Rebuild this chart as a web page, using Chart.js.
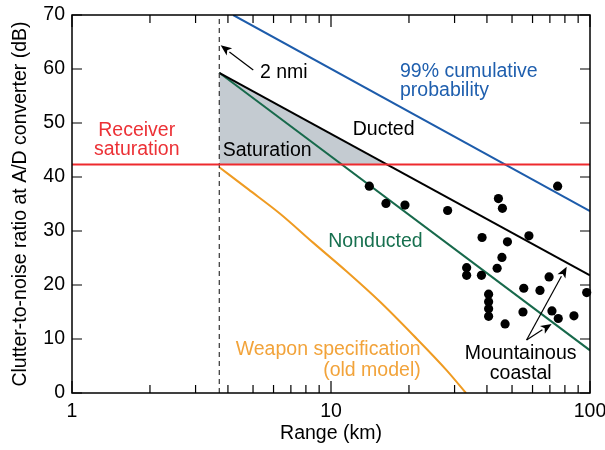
<!DOCTYPE html>
<html><head><meta charset="utf-8">
<script src="https://cdn.jsdelivr.net/npm/chart.js@4/dist/chart.umd.min.js"></script>
<style>html,body{margin:0;padding:0;background:#fff}#wrap{width:605px;height:450px;position:relative}</style>
</head><body><div id="wrap"><canvas id="c"></canvas></div>
<script>
// ---- data ----
const NMI2_KM = 3.704;
const xRange = [1, 100];
const yRange = [0, 70];
const yTicks = [0, 10, 20, 30, 40, 50, 60, 70];
const xMajorTicks = [1, 10, 100];
const xMinorTicks = [2, 3, 4, 5, 6, 7, 8, 9, 20, 30, 40, 50, 60, 70, 80, 90];
const saturationLevel = 42.3;
const ductedX = [3.704, 100];
const ductedY = [59.3, 21.8];
const nonductedX = [3.704, 100];
const nonductedY = [59.3, 7.9];
const cum99X = [4.19, 100];
const cum99Y = [70, 33.7];
const weaponX = [3.704, 4.80, 6.36, 8.55, 11.50, 15.46, 20.79, 27.97, 33.2];
const weaponY = [41.8, 37.7, 33.2, 27.8, 22.5, 16.9, 10.7, 4.2, 0];
const shadeX = [3.704, 16.2];
const shadeY = [59.3, 42.3];
const measX = [14.06, 16.3, 19.3, 28.2, 44.3, 45.9, 75.0, 38.3, 48.0, 58.1, 45.7, 33.4, 33.4, 38.1, 43.8, 55.5, 64.1, 69.5, 97.1, 40.6, 40.6, 40.6, 40.6, 55.1, 71.3, 75.4, 86.7, 47.0];
const measY = [38.3, 35.1, 34.8, 33.8, 36.0, 34.2, 38.3, 28.8, 28.0, 29.1, 25.1, 23.2, 21.8, 21.8, 23.1, 19.4, 19.0, 21.5, 18.6, 18.3, 16.9, 15.6, 14.2, 15.0, 15.2, 13.8, 14.3, 12.8];

const pts = (xs, ys) => xs.map((x, i) => ({x, y: ys[i]}));

const FONT = '"Liberation Sans", Arial, Helvetica, sans-serif';
const FS = 19.5;
const C = {red:'#ee2a2e', blue:'#1d5cab', green:'#17694b', orange:'#ef9b22', shade:'#c4cbd1',
  redText:'#ec3136', blueText:'#1f5fae', greenText:'#17704f', orangeText:'#f2a33a'};

// text annotations in data coordinates
const labels = [
  {t:'Receiver', x:1.778, y:48.5, c:C.redText, a:'center'},
  {t:'saturation', x:1.778, y:45.0, c:C.redText, a:'center'},
  {t:'2 nmi', x:5.32, y:59.3, c:'#000', a:'left'},
  {t:'99% cumulative', x:18.47, y:59.6, c:C.blueText, a:'left'},
  {t:'probability', x:18.47, y:56.0, c:C.blueText, a:'left'},
  {t:'Ducted', x:12.13, y:48.7, c:'#000', a:'left'},
  {t:'Saturation', x:3.82, y:44.9, c:'#000', a:'left'},
  {t:'Nonducted', x:9.76, y:28.0, c:C.greenText, a:'left'},
  {t:'Weapon specification', x:22.2, y:8.0, c:C.orangeText, a:'right'},
  {t:'(old model)', x:22.2, y:4.1, c:C.orangeText, a:'right'},
  {t:'Mountainous', x:54.0, y:7.35, c:'#000', a:'center'},
  {t:'coastal', x:54.0, y:3.65, c:'#000', a:'center'}
];
const arrows = [
  {from:[5.01, 59.8], to:[3.75, 64.4]},
  {from:[56.9, 9.8], to:[81.3, 23.4]},
  {from:[56.9, 9.8], to:[71.1, 12.8]}
];

function drawArrow(ctx, x1, y1, x2, y2) {
  const ang = Math.atan2(y2 - y1, x2 - x1);
  const L = 11, W = 4.5;
  const bx = x2 - L * Math.cos(ang), by = y2 - L * Math.sin(ang);
  ctx.beginPath(); ctx.moveTo(x1, y1); ctx.lineTo(bx, by); ctx.stroke();
  ctx.beginPath();
  ctx.moveTo(x2, y2);
  ctx.lineTo(bx + W * Math.sin(ang), by - W * Math.cos(ang));
  ctx.lineTo(bx + 0.25 * L * Math.cos(ang), by + 0.25 * L * Math.sin(ang));
  ctx.lineTo(bx - W * Math.sin(ang), by + W * Math.cos(ang));
  ctx.closePath(); ctx.fill();
}

const annot = {
  id: 'annot',
  afterDatasetsDraw(chart) {
    const {ctx, scales:{x, y}} = chart;
    ctx.save();
    ctx.strokeStyle = '#000'; ctx.fillStyle = '#000'; ctx.lineWidth = 1.2;
    arrows.forEach(a => drawArrow(ctx, x.getPixelForValue(a.from[0]), y.getPixelForValue(a.from[1]),
      x.getPixelForValue(a.to[0]), y.getPixelForValue(a.to[1])));
    ctx.font = FS + 'px ' + FONT;
    ctx.textBaseline = 'middle';
    labels.forEach(l => {
      ctx.fillStyle = l.c; ctx.textAlign = l.a;
      ctx.fillText(l.t, x.getPixelForValue(l.x), y.getPixelForValue(l.y));
    });
    ctx.restore();
  },
  afterDraw(chart) {
    const {ctx, chartArea:ca, scales:{x, y}} = chart;
    ctx.save();
    ctx.strokeStyle = '#000'; ctx.lineWidth = 1.5;
    ctx.strokeRect(ca.left, ca.top, ca.right - ca.left, ca.bottom - ca.top);
    ctx.lineWidth = 1.2;
    ctx.beginPath();
    const tick = (v, len) => {
      const px = x.getPixelForValue(v);
      ctx.moveTo(px, ca.bottom); ctx.lineTo(px, ca.bottom - len);
      ctx.moveTo(px, ca.top); ctx.lineTo(px, ca.top + len);
    };
    xMajorTicks.forEach(v => tick(v, 12));
    xMinorTicks.forEach(v => tick(v, 8));
    yTicks.forEach(v => {
      const py = y.getPixelForValue(v);
      ctx.moveTo(ca.left, py); ctx.lineTo(ca.left + 10, py);
      ctx.moveTo(ca.right, py); ctx.lineTo(ca.right - 10, py);
    });
    ctx.stroke();
    ctx.restore();
  }
};

const lineDS = (data, color, extra) => Object.assign({
  type:'line', data, borderColor:color, borderWidth:2, pointRadius:0, fill:false, tension:0, order:5
}, extra || {});

new Chart(document.getElementById('c'), {
  type: 'scatter',
  data: {
    datasets: [
      {type:'scatter', data: pts(measX, measY), backgroundColor:'#000', borderColor:'#000', pointRadius:4.6, pointBorderWidth:0, order:0, clip:10},
      lineDS(pts([NMI2_KM, NMI2_KM], yRange), '#333', {borderWidth:1.2, borderDash:[5, 4], order:4}),
      lineDS(pts(ductedX, ductedY), '#000'),
      lineDS(pts(nonductedX, nonductedY), C.green),
      lineDS(pts(cum99X, cum99Y), C.blue),
      lineDS(pts(weaponX, weaponY), C.orange, {cubicInterpolationMode:'monotone'}),
      lineDS(pts(xRange, [saturationLevel, saturationLevel]), C.red, {order:3}),
      lineDS(pts(shadeX, shadeY), 'rgba(0,0,0,0)', {borderWidth:0, backgroundColor:C.shade, fill:{value:saturationLevel}, order:10})
    ]
  },
  options: {
    responsive: true, maintainAspectRatio: false, animation: false,
    layout: {padding: {top:15, right:15, left:0, bottom:0}},
    plugins: {legend:{display:false}, tooltip:{enabled:false}},
    events: [],
    scales: {
      x: {
        type:'logarithmic', min:xRange[0], max:xRange[1],
        afterFit(s){ s.height = 57; s.paddingLeft = 0; s.paddingRight = 0; },
        afterBuildTicks(s){ s.ticks = xMajorTicks.map(v => ({value:v})); },
        grid:{display:false, drawTicks:false}, border:{display:false},
        ticks:{color:'#000', font:{family:FONT, size:FS}, padding:7, maxRotation:0, autoSkip:false,
          callback:(v) => String(v)},
        title:{display:true, text:'Range (km)', color:'#000', font:{family:FONT, size:FS}, padding:{top:0, bottom:5}}
      },
      y: {
        type:'linear', min:yRange[0], max:yRange[1],
        afterFit(s){ s.width = 72; s.paddingTop = 0; s.paddingBottom = 0; },
        afterBuildTicks(s){ s.ticks = yTicks.map(v => ({value:v})); },
        grid:{display:false, drawTicks:false}, border:{display:false},
        ticks:{color:'#000', font:{family:FONT, size:FS}, padding:7},
        title:{display:true, text:'Clutter-to-noise ratio at A/D converter (dB)', color:'#000', font:{family:FONT, size:FS}, padding:{top:9, bottom:0}}
      }
    }
  },
  plugins: [annot]
});
</script></body></html>
